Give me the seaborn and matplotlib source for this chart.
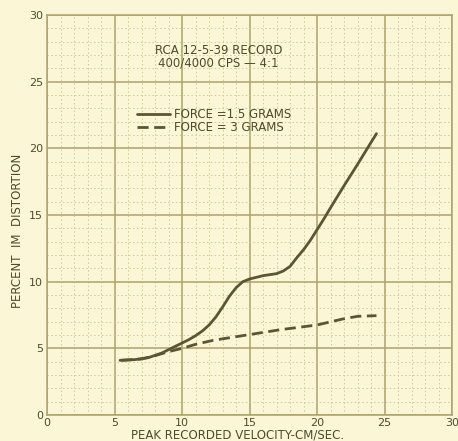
import matplotlib
matplotlib.use("Agg")
import matplotlib.pyplot as plt
from matplotlib.ticker import MultipleLocator
import seaborn as sns
import pandas as pd

# Data
x_light = [5.4, 6.5, 7.5, 8.5, 9.5, 10.5, 11, 11.5, 12, 12.5, 13, 13.5, 14, 14.5, 15, 16, 17, 17.5, 18, 18.5, 19, 19.5, 20, 20.5, 21, 22, 23, 24, 24.4]
y_light = [4.1, 4.15, 4.3, 4.65, 5.15, 5.65, 5.95, 6.3, 6.75, 7.35, 8.1, 8.9, 9.55, 10.0, 10.2, 10.45, 10.6, 10.8, 11.15, 11.8, 12.4, 13.1, 13.9, 14.7, 15.55, 17.2, 18.8, 20.45, 21.1]
x_heavy = [5.5, 7, 8, 9, 10, 11, 12.3, 14.8, 17.3, 20, 21.9, 23, 24.4]
y_heavy = [4.1, 4.2, 4.45, 4.75, 5.0, 5.3, 5.6, 6.0, 6.4, 6.75, 7.2, 7.4, 7.45]
label_light = "FORCE =1.5 GRAMS"
label_heavy = "FORCE = 3 GRAMS"
x_ticks = [0, 5, 10, 15, 20, 25, 30]
y_ticks = [0, 5, 10, 15, 20, 25, 30]
note = "RCA 12-5-39 RECORD\n400/4000 CPS — 4:1"
xlabel = "PEAK RECORDED VELOCITY-CM/SEC."
ylabel = "PERCENT  IM  DISTORTION"

bg = "#fbf7d6"
ink = "#4f4a2c"
major_c = "#ada26c"
minor_c = "#d3c995"

sns.set_style("white")
plt.rcParams['font.family'] = ['DejaVu Sans']

fig = plt.figure(figsize=(4.58, 4.41), dpi=100, facecolor=bg)
ax = fig.add_axes([0.103, 0.059, 0.884, 0.907])
ax.set_facecolor(bg)

df1 = pd.DataFrame({"x": x_light, "y": y_light})
df2 = pd.DataFrame({"x": x_heavy, "y": y_heavy})
sns.lineplot(data=df1, x="x", y="y", ax=ax, color="#5b5534", lw=2.0, label=label_light, zorder=5)
sns.lineplot(data=df2, x="x", y="y", ax=ax, color="#5b5534", lw=2.0, linestyle=(0, (4, 2)), label=label_heavy, zorder=5)

ax.set_xlim(0, 30)
ax.set_ylim(0, 30)
ax.set_xticks(x_ticks)
ax.set_yticks(y_ticks)
ax.xaxis.set_minor_locator(MultipleLocator(1))
ax.yaxis.set_minor_locator(MultipleLocator(1))
ax.grid(which="major", color=major_c, lw=1.1, zorder=1)
ax.grid(which="minor", color=minor_c, lw=0.7, linestyle=(0, (1.5, 2.5)), zorder=1)
ax.set_axisbelow(True)
for s in ax.spines.values():
    s.set_color(major_c)
    s.set_linewidth(1.1)
ax.tick_params(which="both", length=0, colors=ink, labelsize=8, pad=3)
ax.tick_params(axis="x", pad=2)

ax.set_xlabel(xlabel, fontsize=8.5, color=ink, labelpad=1)
ax.xaxis.set_label_coords(0.47, -0.035)
ax.set_ylabel(ylabel, fontsize=8.5, color=ink, labelpad=4)
ax.yaxis.set_label_coords(-0.057, 0.46)

ax.text(12.7, 26.9, note, ha="center", va="center", fontsize=8.5, color=ink, linespacing=0.95)

leg = ax.legend(loc="upper left", bbox_to_anchor=(0.222, 0.768), frameon=False,
                fontsize=8.5, handlelength=2.8, handletextpad=0.35, labelspacing=0.0,
                borderpad=0, borderaxespad=0)
for t in leg.get_texts():
    t.set_color(ink)

fig.savefig("out.png", dpi=100, facecolor=bg)
